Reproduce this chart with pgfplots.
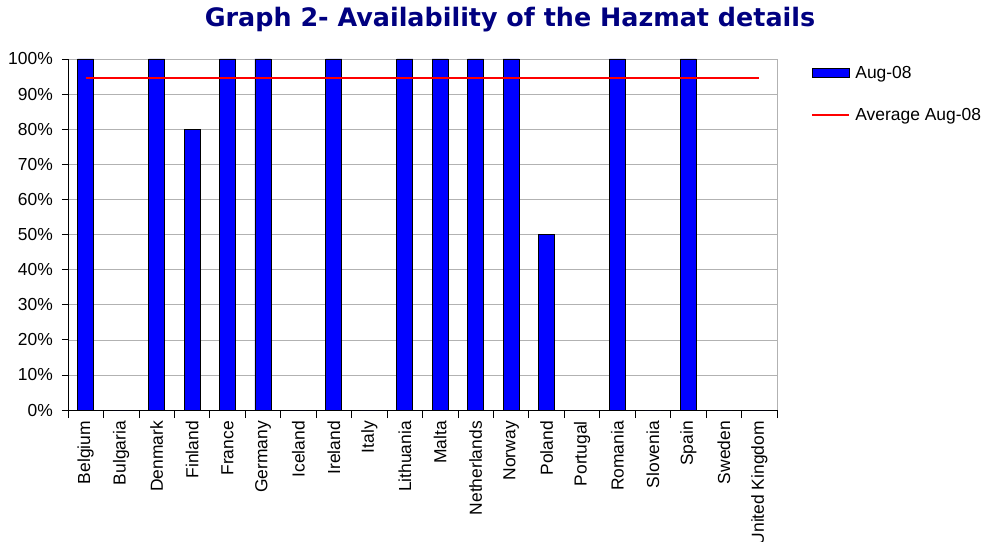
\documentclass[border=0pt]{standalone}
\usepackage{pgfplots}
\pgfplotsset{compat=1.18}
\usepackage{fontspec}
\setmainfont{Liberation Sans}
\newfontfamily\titlefont{DejaVu Sans}
\definecolor{navytitle}{RGB}{0,0,128}
\definecolor{barblue}{RGB}{0,0,255}
\pgfplotsset{
  barlegend/.style={legend image code/.code={\draw[##1] (0bp,-4.5bp) rectangle (37bp,4.5bp);}},
  linelegend/.style={legend image code/.code={\draw[##1] (0bp,0bp) -- (37bp,0bp);}},
}
\begin{document}
\begin{tikzpicture}
\path[use as bounding box] (0,0) rectangle (985bp,542bp);
\node[anchor=base, font=\titlefont\bfseries\fontsize{25.5}{29}\selectfont, text=navytitle, inner sep=0] at (510bp,515bp) {Graph 2- Availability of the Hazmat details};
\begin{axis}[
  at={(68bp,132bp)}, anchor=south west,
  scale only axis, width=709bp, height=351bp,
  xmin=-0.5, xmax=19.5, ymin=0, ymax=100,
  axis x line*=bottom, axis y line*=left,
  axis line style={black, line width=0.8pt},
  xtick={0,...,19},
  xticklabels={Belgium,Bulgaria,Denmark,Finland,France,Germany,Iceland,Ireland,Italy,Lithuania,Malta,Netherlands,Norway,Poland,Portugal,Romania,Slovenia,Spain,Sweden,United Kingdom},
  x tick label style={rotate=90, anchor=east, font=\fontsize{17.5}{20}\selectfont, inner sep=0pt, xshift=-5bp},
  major x tick style={draw=none},
  minor xtick={-0.5,0.5,...,19.5},
  minor tick length=8bp,
  ytick={0,10,...,100},
  yticklabels={0\%,10\%,20\%,30\%,40\%,50\%,60\%,70\%,80\%,90\%,100\%},
  y tick label style={font=\fontsize{17.5}{20}\selectfont, inner sep=0pt, xshift=-9bp},
  major tick length=6bp,
  tick align=outside,
  tick style={black, line width=0.8pt},
  ymajorgrids, grid style={gray!60, line width=0.6pt},
  clip=false,
  legend style={at={(rel axis cs:1,1)}, anchor=north west, xshift=34bp, yshift=-5bp, draw=none, fill=none,
    font=\fontsize{17.5}{20}\selectfont, row sep=24bp, cells={anchor=west}, inner sep=0pt,
    nodes={inner xsep=2bp}},
]
\draw[gray!60, line width=0.6pt] (rel axis cs:1,0) -- (rel axis cs:1,1);
\addplot[ybar, bar width=16bp, fill=barblue, draw=black, line width=0.8pt, barlegend]
  coordinates {(0,100) (1,0) (2,100) (3,80) (4,100) (5,100) (6,0) (7,100) (8,0) (9,100) (10,100) (11,100) (12,100) (13,50) (14,0) (15,100) (16,0) (17,100) (18,0) (19,0)};
\addlegendentry{\hspace{3bp}Aug-08}
\addplot[red, line width=2.2pt, mark=none, linelegend]
  coordinates {(0,94.6) (19,94.6)};
\addlegendentry{\hspace{3bp}Average Aug-08}
\end{axis}
\end{tikzpicture}
\end{document}
